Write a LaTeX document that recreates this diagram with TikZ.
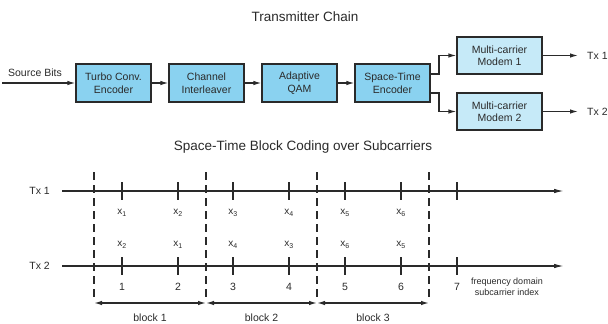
\documentclass[tikz,border=0pt]{standalone}
\usepackage{fontspec}
\setmainfont{Liberation Sans}
\usetikzlibrary{arrows.meta,calc}
\definecolor{boxblue}{HTML}{8AD2F0}
\definecolor{modemblue}{HTML}{C6EAF8}
\definecolor{ink}{HTML}{2A2A2A}
\tikzset{
  chainbox/.style={draw=ink,line width=1.2pt,fill=boxblue,minimum width=75pt,minimum height=38pt,
    align=center,font=\fontsize{10.5}{12.5}\selectfont,text=ink,inner sep=0pt},
  modembox/.style={chainbox,fill=modemblue,minimum width=85pt,minimum height=37pt},
  conn/.style={draw=ink,line width=1.2pt,-{Latex[length=8pt,width=4.5pt]}},
  axis/.style={draw=ink,line width=1.3pt,-{Latex[length=10pt,width=4.5pt]}},
  tickmark/.style={draw=ink,line width=1.3pt},
  divider/.style={draw=ink,line width=1.3pt,dash pattern=on 8pt off 5pt},
  blockarr/.style={draw=ink,line width=1.3pt,{Latex[length=8pt,width=4.5pt]}-{Latex[length=8pt,width=4.5pt]}},
  lbl/.style={font=\fontsize{10.5}{12.5}\selectfont,text=ink,inner sep=0pt},
  sym/.style={font=\fontsize{10}{11}\selectfont,text=ink,inner sep=0pt},
  ttl/.style={font=\fontsize{13.5}{16}\selectfont,text=ink,inner sep=0pt},
}
\begin{document}
\begin{tikzpicture}[x=1pt,y=-1pt]
\useasboundingbox (0,0) rectangle (608,324);
% titles
\node[ttl] (t1) at (305,17) {Transmitter Chain};
\node[ttl] (t2) at (303,147) {Space-Time Block Coding over Subcarriers};
% chain
\node[chainbox] (turbo) at (113.5,83) {Turbo Conv.\\Encoder};
\node[chainbox] (chan) at (206.5,83) {Channel\\Interleaver};
\node[chainbox] (qam) at (299.5,83) {Adaptive\\QAM};
\node[chainbox] (ste) at (392.5,83) {Space-Time\\Encoder};
\node[modembox] (m1) at (499.5,55.5) {Multi-carrier\\Modem 1};
\node[modembox] (m2) at (499.5,111.5) {Multi-carrier\\Modem 2};
\coordinate (src) at (2,83);
\node[lbl] (srcl) at (35,73) {Source Bits};
\draw[conn] (src) -- (turbo.west);
\draw[conn] (turbo) -- (chan);
\draw[conn] (chan) -- (qam);
\draw[conn] (qam) -- (ste);
\coordinate (s1) at (430,74);
\coordinate (s2) at (430,93);
\draw[conn] (s1) -- (439,74) |- (m1.west);
\draw[conn] (s2) -- (439,93) |- (m2.west);
\coordinate (o1) at (578,55.5);
\coordinate (o2) at (578,111.5);
\draw[conn] (m1.east) -- (o1);
\draw[conn] (m2.east) -- (o2);
\node[lbl,anchor=west] (tx1o) at (587,55.5) {Tx 1};
\node[lbl,anchor=west] (tx2o) at (587,111.5) {Tx 2};
% STBC diagram
\node[lbl,anchor=east] (tx1) at (50,191) {Tx 1};
\node[lbl,anchor=east] (tx2) at (50,266) {Tx 2};
\coordinate (a1s) at (62,191); \coordinate (a1e) at (564,191);
\coordinate (a2s) at (62,266); \coordinate (a2e) at (564,266);
\draw[axis] (a1s) -- (a1e);
\draw[axis] (a2s) -- (a2e);
\foreach \xx [count=\n] in {122,178,233,289,345,401,457}{
  \draw[tickmark] (\xx,182) -- (\xx,200);
  \draw[tickmark] (\xx,257) -- (\xx,275);
  \node[lbl] (num\n) at (\xx,287) {\n};
}
\foreach \xx in {94,206,317,429}{
  \draw[divider] (\xx,172) -- (\xx,297);
}
\foreach \xx/\a/\b in {122/1/2,178/2/1,233/3/4,289/4/3,345/5/6,401/6/5}{
  \node[sym] (u\a) at (\xx,213) {x\textsubscript{\a}};
  \node[sym] (l\a) at (\xx,245) {x\textsubscript{\b}};
}
\node[sym,font=\fontsize{9}{11}\selectfont,align=center] (fd) at (507,286.5) {frequency domain\\subcarrier index};
\coordinate (d1) at (94,303); \coordinate (d2) at (206,303);
\coordinate (d3) at (317,303); \coordinate (d4) at (429,303);
\draw[blockarr] (d1) -- (d2);
\draw[blockarr] (d2) -- (d3);
\draw[blockarr] (d3) -- (d4);
\node[lbl] (b1) at (150,318) {block 1};
\node[lbl] (b2) at (261.5,318) {block 2};
\node[lbl] (b3) at (373,318) {block 3};
\end{tikzpicture}
\end{document}
